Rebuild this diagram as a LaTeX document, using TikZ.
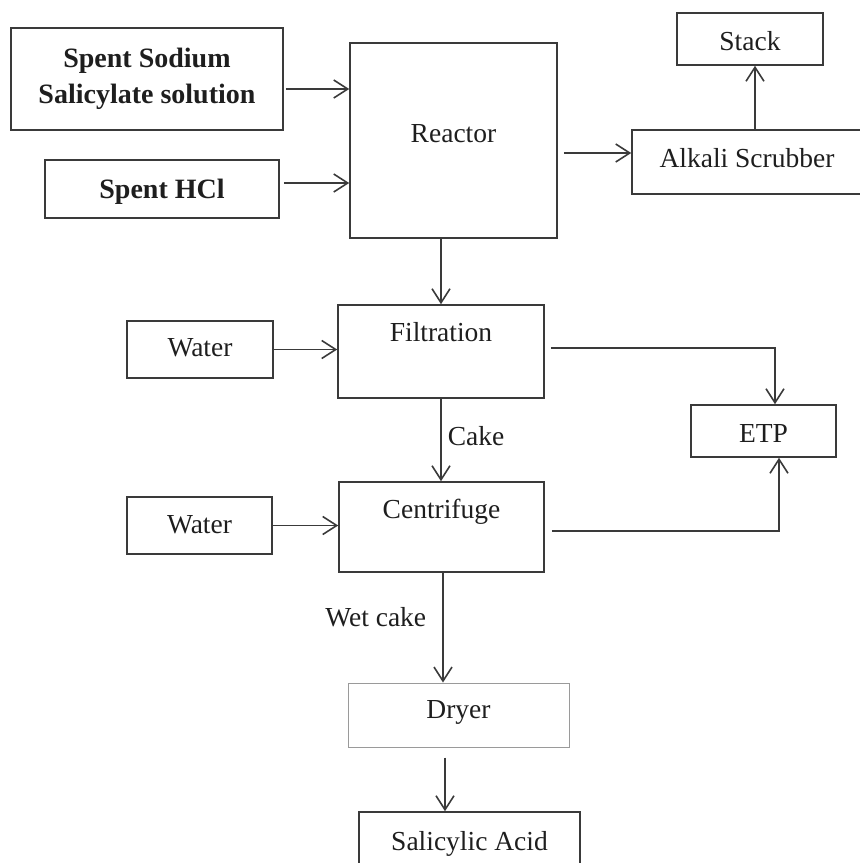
\documentclass[tikz,border=0pt]{standalone}
\usepackage{fontspec}
\setmainfont{Liberation Serif}
\usetikzlibrary{arrows.meta,calc}
\definecolor{ln}{HTML}{3A3A3A}
\definecolor{lnlight}{HTML}{9A9A9A}
\definecolor{tx}{HTML}{1E1E1E}
\begin{document}
\begin{tikzpicture}[x=1pt,y=-1pt,
  box/.style={draw=ln, line width=1.6pt, rectangle, inner sep=0pt, text=tx,
    font=\fontsize{27.5}{33}\selectfont, align=center},
  boldbox/.style={box, font=\bfseries\fontsize{28}{36}\selectfont},
  lightbox/.style={box, draw=lnlight, line width=1pt},
  arr/.style={draw=ln, line width=1.6pt,
    -{Straight Barb[length=14pt,width=18pt,line width=1.6pt]}},
  lbl/.style={text=tx, font=\fontsize{27.5}{33}\selectfont, inner sep=2pt}]
\useasboundingbox (0,0) rectangle (860,863);

\node[boldbox, minimum width=272pt, minimum height=102pt] (ssal) at (147,79)
  {Spent Sodium\\Salicylate solution};
\node[boldbox, minimum width=234pt, minimum height=58pt, text height=22pt, text depth=4pt] (hcl) at (162,189) {Spent HCl};
\node[box, minimum width=207pt, minimum height=195pt, text height=19pt, text depth=15pt] (reactor) at (453.5,140.5) {Reactor};
\node[box, minimum width=146pt, minimum height=52pt, text height=25pt, text depth=3pt] (stack) at (750,39) {Stack};
\node[box, minimum width=230pt, minimum height=64pt, text height=19pt, text depth=9pt] (scrub) at (747,162) {Alkali Scrubber};
\node[box, minimum width=206pt, minimum height=93pt, text height=19pt, text depth=40pt] (filt) at (441,351.5) {Filtration};
\node[box, minimum width=146pt, minimum height=57pt, text height=19pt, text depth=6pt] (water1) at (200,349.5) {Water};
\node[box, minimum width=145pt, minimum height=52pt, text height=25pt, text depth=3pt] (etp) at (763.5,431) {ETP};
\node[box, minimum width=205pt, minimum height=90pt, text height=19pt, text depth=37pt] (cent) at (441.5,527) {Centrifuge};
\node[box, minimum width=145pt, minimum height=57pt, text height=19pt, text depth=4pt] (water2) at (199.5,525.5) {Water};
\node[lightbox, minimum width=221pt, minimum height=64pt, text height=19pt, text depth=13pt] (dryer) at (458.5,715) {Dryer};
\node[box, minimum width=221pt, minimum height=54pt, text height=25pt, text depth=3pt] (acid) at (469.5,839) {Salicylic Acid};

% feeds to reactor
\draw[arr, shorten <=2pt] ([yshift=-10pt]ssal.east) -- ([yshift=-10pt]ssal.east -| reactor.west);
\draw[arr, shorten <=4pt] ([yshift=6pt]hcl.east) -- ([yshift=6pt]hcl.east -| reactor.west);
% reactor to scrubber, scrubber to stack
\draw[arr, shorten <=6pt] ([yshift=9pt]scrub.west -| reactor.east) -- ([yshift=9pt]scrub.west);
\draw[arr] ([xshift=8pt]scrub.north) -- ([xshift=8pt]scrub.north |- stack.south);
% reactor to filtration
\draw[arr] (reactor.south -| filt.north) -- (filt.north);
% water feeds
\draw[arr] (water1.east) -- (water1.east -| filt.west);
\draw[arr] (water2.east) -- (water2.east -| cent.west);
% filtration to centrifuge
\draw[arr] (filt.south) -- (filt.south |- cent.north)
  node[lbl, pos=0.45, anchor=west, xshift=4pt] {Cake};
% centrifuge to dryer
\draw[arr] ([xshift=1.5pt]cent.south) -- ([xshift=1.5pt]cent.south |- dryer.north)
  node[lbl, pos=0.405, left=14pt] {Wet cake};
% dryer to acid
\draw[arr, shorten <=10pt] ([xshift=-13.5pt]dryer.south) -- ([xshift=-13.5pt]dryer.south |- acid.north);
% to ETP
\draw[arr, shorten <=6pt] ([yshift=3.5pt]filt.east) -| ([xshift=11.5pt]etp.north);
\draw[arr, shorten <=7pt] ([yshift=-4pt]cent.east) -| ([xshift=15.5pt]etp.south);
\end{tikzpicture}
\end{document}
